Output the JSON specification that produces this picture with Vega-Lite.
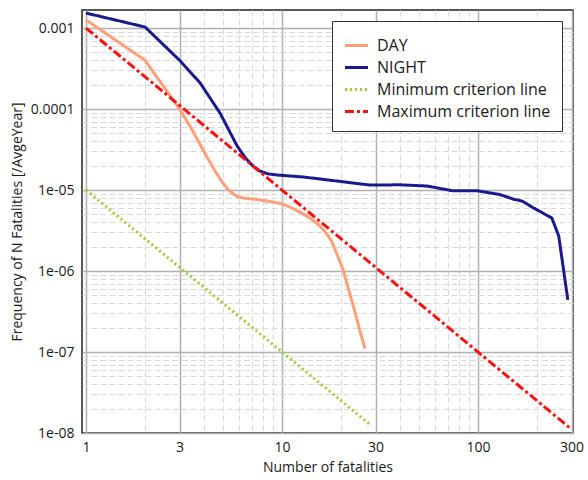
{
  "$schema": "https://vega.github.io/schema/vega-lite/v6.json",
  "width": 491,
  "height": 423,
  "autosize": "none",
  "padding": {"left": 82, "top": 10, "right": 15, "bottom": 47},
  "background": "white",
  "config": {
    "font": "Open Sans",
    "view": {"stroke": "#222222", "strokeWidth": 1.5},
    "axis": {
      "labelFont": "Open Sans", "labelFontSize": 14, "labelColor": "#1a1a1a",
      "titleFont": "Open Sans", "titleFontSize": 14, "titleFontWeight": "normal", "titleColor": "#1a1a1a",
      "domain": false, "ticks": false
    }
  },
  "data": {
    "values": [
      {"series": "DAY", "n": 1, "f": 0.00126},
      {"series": "DAY", "n": 2, "f": 0.0004},
      {"series": "DAY", "n": 3, "f": 0.0001},
      {"series": "DAY", "n": 3.5, "f": 0.000054},
      {"series": "DAY", "n": 3.96, "f": 0.000031},
      {"series": "DAY", "n": 4.5, "f": 0.000018},
      {"series": "DAY", "n": 4.94, "f": 0.0000126},
      {"series": "DAY", "n": 5.4, "f": 0.0000097},
      {"series": "DAY", "n": 5.9, "f": 0.0000083},
      {"series": "DAY", "n": 6.5, "f": 0.0000079},
      {"series": "DAY", "n": 7.3, "f": 0.0000077},
      {"series": "DAY", "n": 8.4, "f": 0.0000073},
      {"series": "DAY", "n": 9.9, "f": 0.0000068},
      {"series": "DAY", "n": 11.6, "f": 0.0000058},
      {"series": "DAY", "n": 13.7, "f": 0.0000046},
      {"series": "DAY", "n": 15.2, "f": 0.0000038},
      {"series": "DAY", "n": 16.5, "f": 0.0000031},
      {"series": "DAY", "n": 17.8, "f": 0.0000024},
      {"series": "DAY", "n": 19.1, "f": 0.0000016},
      {"series": "DAY", "n": 20.5, "f": 0.00000103},
      {"series": "DAY", "n": 22.0, "f": 0.00000056},
      {"series": "DAY", "n": 23.4, "f": 0.00000033},
      {"series": "DAY", "n": 25.0, "f": 0.00000018},
      {"series": "DAY", "n": 26.5, "f": 0.00000011},
      {"series": "NIGHT", "n": 1, "f": 0.00153},
      {"series": "NIGHT", "n": 2, "f": 0.00103},
      {"series": "NIGHT", "n": 3, "f": 0.0004},
      {"series": "NIGHT", "n": 3.82, "f": 0.00021},
      {"series": "NIGHT", "n": 4.83, "f": 0.000089},
      {"series": "NIGHT", "n": 5.9, "f": 0.000035},
      {"series": "NIGHT", "n": 6.5, "f": 0.000025},
      {"series": "NIGHT", "n": 7.1, "f": 0.0000198},
      {"series": "NIGHT", "n": 7.7, "f": 0.0000172},
      {"series": "NIGHT", "n": 8.5, "f": 0.0000158},
      {"series": "NIGHT", "n": 9.5, "f": 0.0000153},
      {"series": "NIGHT", "n": 12.8, "f": 0.0000145},
      {"series": "NIGHT", "n": 19.1, "f": 0.0000129},
      {"series": "NIGHT", "n": 28.2, "f": 0.0000115},
      {"series": "NIGHT", "n": 40, "f": 0.0000116},
      {"series": "NIGHT", "n": 55, "f": 0.0000112},
      {"series": "NIGHT", "n": 74, "f": 0.0000098},
      {"series": "NIGHT", "n": 99, "f": 0.0000098},
      {"series": "NIGHT", "n": 129, "f": 0.0000088},
      {"series": "NIGHT", "n": 152, "f": 0.0000077},
      {"series": "NIGHT", "n": 168, "f": 0.0000073},
      {"series": "NIGHT", "n": 192, "f": 0.000006},
      {"series": "NIGHT", "n": 211, "f": 0.0000053},
      {"series": "NIGHT", "n": 238, "f": 0.0000045},
      {"series": "NIGHT", "n": 258, "f": 0.0000027},
      {"series": "NIGHT", "n": 287, "f": 0.00000044},
      {"series": "Minimum criterion line", "n": 1, "f": 0.00001},
      {"series": "Minimum criterion line", "n": 28, "f": 0.0000000128},
      {"series": "Maximum criterion line", "n": 1, "f": 0.001},
      {"series": "Maximum criterion line", "n": 300, "f": 0.0000000111}
    ]
  },
  "mark": {"type": "line", "strokeWidth": 3, "clip": true, "strokeJoin": "round"},
  "encoding": {
    "x": {
      "field": "n", "type": "quantitative",
      "scale": {"type": "log", "domain": [0.954, 305], "nice": false},
      "axis": {
        "title": "Number of fatalities",
        "values": [1,2,3,4,5,6,7,8,9,10,20,30,40,50,60,70,80,90,100,200,300],
        "labelExpr": "indexof([1,3,10,30,100,300], datum.value) >= 0 ? datum.label : ''",
        "labelPadding": 7,
        "titlePadding": 6,
        "gridColor": {"condition": {"test": "indexof([1,3,10,30,100,300], datum.value) >= 0", "value": "#b0b0b0"}, "value": "#d9d9d9"},
        "gridDash": {"condition": {"test": "indexof([1,3,10,30,100,300], datum.value) >= 0", "value": []}, "value": [6, 3]},
        "gridWidth": {"condition": {"test": "indexof([1,3,10,30,100,300], datum.value) >= 0", "value": 1.5}, "value": 1}
      }
    },
    "y": {
      "field": "f", "type": "quantitative",
      "scale": {"type": "log", "domain": [1e-8, 0.00167], "nice": false},
      "axis": {
        "title": "Frequency of N Fatalities [/AvgeYear]",
        "values": [1e-8,2e-8,3e-8,4e-8,5e-8,6e-8,7e-8,8e-8,9e-8,1e-7,2e-7,3e-7,4e-7,5e-7,6e-7,7e-7,8e-7,9e-7,1e-6,2e-6,3e-6,4e-6,5e-6,6e-6,7e-6,8e-6,9e-6,1e-5,2e-5,3e-5,4e-5,5e-5,6e-5,7e-5,8e-5,9e-5,1e-4,2e-4,3e-4,4e-4,5e-4,6e-4,7e-4,8e-4,9e-4,1e-3],
        "labelExpr": "indexof([1e-8,1e-7,1e-6,1e-5,1e-4,1e-3], datum.value) < 0 ? '' : (datum.value >= 1e-4 ? format(datum.value, '~f') : replace(format(datum.value, '.0e'), 'e-', 'e-0'))",
        "labelPadding": 8,
        "titlePadding": 6,
        "gridColor": {"condition": {"test": "indexof([1e-8,1e-7,1e-6,1e-5,1e-4,1e-3], datum.value) >= 0", "value": "#b0b0b0"}, "value": "#d9d9d9"},
        "gridDash": {"condition": {"test": "indexof([1e-8,1e-7,1e-6,1e-5,1e-4,1e-3], datum.value) >= 0", "value": []}, "value": [6, 3]},
        "gridWidth": {"condition": {"test": "indexof([1e-8,1e-7,1e-6,1e-5,1e-4,1e-3], datum.value) >= 0", "value": 1.5}, "value": 1}
      }
    },
    "color": {
      "field": "series", "type": "nominal",
      "scale": {
        "domain": ["DAY", "NIGHT", "Minimum criterion line", "Maximum criterion line"],
        "range": ["#ffa07a", "#1a1a8e", "#9acd32", "#ff1010"]
      },
      "legend": {
        "title": null, "orient": "top-right", "offset": 11,
        "fillColor": "white", "strokeColor": "#333333", "padding": 11,
        "symbolType": "stroke", "symbolStrokeWidth": 3, "symbolSize": 530, "labelOffset": 7,
        "labelFont": "Open Sans", "labelFontSize": 16, "labelColor": "#1a1a1a",
        "rowPadding": -2, "labelLimit": 300
      }
    },
    "strokeDash": {
      "field": "series", "type": "nominal",
      "scale": {
        "domain": ["DAY", "NIGHT", "Minimum criterion line", "Maximum criterion line"],
        "range": [[1, 0], [1, 0], [2, 3], [9, 3, 3, 3]]
      },
      "legend": {
        "title": null, "orient": "top-right", "offset": 11,
        "fillColor": "white", "strokeColor": "#333333", "padding": 11,
        "symbolType": "stroke", "symbolStrokeWidth": 3, "symbolSize": 530, "labelOffset": 7,
        "labelFont": "Open Sans", "labelFontSize": 16, "labelColor": "#1a1a1a",
        "rowPadding": -2, "labelLimit": 300
      }
    },
    "order": {"field": "n", "type": "quantitative"}
  }
}
